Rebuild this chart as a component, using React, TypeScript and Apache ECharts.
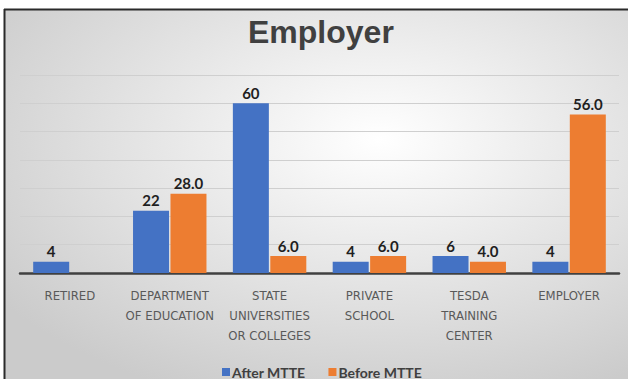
import React, { useEffect, useRef } from "react";
import * as echarts from "echarts";

const titleText = "Employer";
const categories = [
  "RETIRED",
  "DEPARTMENT\nOF EDUCATION",
  "STATE\nUNIVERSITIES\nOR COLLEGES",
  "PRIVATE\nSCHOOL",
  "TESDA\nTRAINING\nCENTER",
  "EMPLOYER",
];
const seriesNames = ["After MTTE", "Before MTTE"];
const afterMTTE = [4, 22, 60, 4, 6, 4];
const beforeMTTE: (number | null)[] = [null, 28, 6, 6, 4, 56];
const yMax = 70;
const yInterval = 10;

const narrow = "'DejaVu Sans Condensed', sans-serif";
const labelFont = "Lato, 'Noto Sans', sans-serif";

export default function App() {
  const ref = useRef<HTMLDivElement>(null);
  useEffect(() => {
    if (!ref.current) return;
    const chart = echarts.init(ref.current, undefined, { renderer: "svg" });
    chart.setOption({
      animation: false,
      backgroundColor: "#ffffff",
      graphic: [
        {
          type: "rect",
          z: -100,
          shape: { x: 5, y: 10, width: 623, height: 369 },
          style: {
            fill: new echarts.graphic.RadialGradient(0.6, 0.35, 0.75, [
              { offset: 0, color: "#ffffff" },
              { offset: 1, color: "#cbcbcb" },
            ]),
          },
        },
        {
          type: "line",
          z: -50,
          shape: { x1: 4, y1: 9.5, x2: 628, y2: 9.5 },
          style: { stroke: "#2a2a2a", lineWidth: 2 },
        },
        {
          type: "line",
          z: -50,
          shape: { x1: 4.5, y1: 9, x2: 4.5, y2: 379 },
          style: { stroke: "#2a2a2a", lineWidth: 2 },
        },
      ],
      title: {
        text: titleText,
        left: 248,
        top: 16,
        padding: 0,
        textStyle: {
          fontFamily: "'Liberation Sans', Arial, sans-serif",
          fontWeight: "bold",
          fontSize: 32,
          color: "#404040",
        },
      },
      legend: {
        data: seriesNames,
        left: 222,
        top: 365,
        icon: "rect",
        itemWidth: 8,
        itemHeight: 8,
        itemGap: 23,
        padding: 0,
        textStyle: {
          fontFamily: labelFont,
          fontWeight: "bold",
          fontSize: 14,
          color: "#404040",
          padding: [0, 0, 0, -3],
        },
      },
      grid: { left: 20, right: 9, top: 75, bottom: 106, containLabel: false },
      xAxis: {
        type: "category",
        data: categories,
        axisLine: { lineStyle: { color: "#404040", width: 2.5 } },
        axisTick: { show: false },
        axisLabel: {
          interval: 0,
          color: "#595959",
          fontFamily: narrow,
          fontSize: 13,
          lineHeight: 20,
          margin: 12,
        },
      },
      yAxis: {
        type: "value",
        min: 0,
        max: yMax,
        interval: yInterval,
        axisLabel: { show: false },
        axisLine: { show: false },
        axisTick: { show: false },
        splitLine: { lineStyle: { color: "#cfcfcf", width: 1 } },
      },
      series: [
        {
          name: seriesNames[0],
          type: "bar",
          data: afterMTTE,
          barWidth: 36,
          barGap: "4%",
          itemStyle: { color: "#4472C4" },
          label: {
            show: true,
            position: "top",
            distance: 3,
            fontFamily: labelFont,
            fontWeight: "bold",
            fontSize: 15,
            color: "#1f1f1f",
          },
        },
        {
          name: seriesNames[1],
          type: "bar",
          data: beforeMTTE,
          barWidth: 36,
          barGap: "4%",
          itemStyle: { color: "#ED7D31" },
          label: {
            show: true,
            position: "top",
            distance: 3,
            fontFamily: labelFont,
            fontWeight: "bold",
            fontSize: 15,
            color: "#1f1f1f",
            formatter: (p: any) =>
              p.value == null ? "" : Number(p.value).toFixed(1),
          },
        },
      ],
    });
    return () => chart.dispose();
  }, []);
  return (
    <div
      ref={ref}
      style={{ position: "absolute", left: 0, top: 0, width: 628, height: 379 }}
    />
  );
}
